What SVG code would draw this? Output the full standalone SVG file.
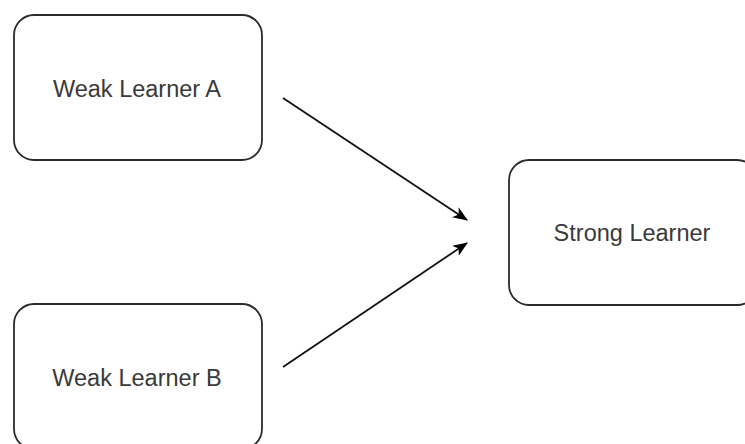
<svg xmlns="http://www.w3.org/2000/svg" width="745" height="444" viewBox="0 0 745 444">
<style>
.box{fill:#ffffff;stroke:#2b2b2b;stroke-width:1.8}
.lbl{font-family:"Liberation Sans",Arial,sans-serif;font-size:23.5px;fill:#3a3a3a;text-anchor:middle}
.edge{stroke:#111111;stroke-width:1.8;fill:none;marker-end:url(#arr)}
</style>
<defs>
<marker id="arr" viewBox="0 0 15 12" refX="14" refY="6" markerWidth="15" markerHeight="12" markerUnits="userSpaceOnUse" orient="auto">
<path d="M0,0 L15,6 L0,12 L4,6 Z" fill="#000000"/>
</marker>
</defs>
<rect width="745" height="444" fill="#ffffff"/>
<g id="weakA">
<rect class="box" x="14" y="15" width="248" height="145" rx="20" ry="20"/>
<text class="lbl" x="137" y="97">Weak Learner A</text>
</g>
<g id="weakB">
<rect class="box" x="14" y="304" width="248" height="145" rx="20" ry="20"/>
<text class="lbl" x="137" y="386">Weak Learner B</text>
</g>
<g id="strong">
<rect class="box" x="509" y="160" width="248" height="145" rx="20" ry="20"/>
<text class="lbl" x="632" y="241">Strong Learner</text>
</g>
<g id="connectors">
<line class="edge" x1="283" y1="98" x2="467" y2="220"/>
<line class="edge" x1="283" y1="367" x2="467" y2="243"/>
</g>
</svg>
